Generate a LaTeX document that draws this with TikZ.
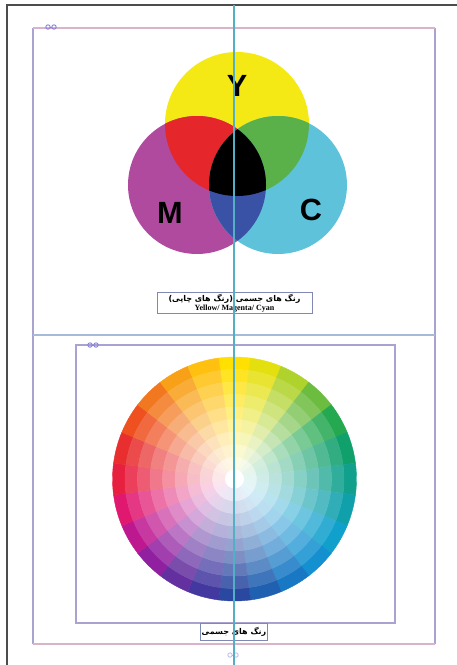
\documentclass[tikz,border=0pt]{standalone}
\usepackage{fontspec}
\setmainfont{Liberation Serif}
\newfontfamily\labelfont{Liberation Sans}
\newfontfamily\persianfont[Script=Arabic]{DejaVu Sans}
\TeXXeTstate=1

% colours of the three inks and their overlaps
\definecolor{inkY}{HTML}{F4E914}
\definecolor{inkM}{HTML}{AF4A9E}
\definecolor{inkC}{HTML}{5EC3DA}
\definecolor{inkR}{HTML}{E5262A}
\definecolor{inkG}{HTML}{5AB14A}
\definecolor{inkB}{HTML}{3A52A5}
% frame colours
\definecolor{framepink}{HTML}{D9B3C9}
\definecolor{framelav}{HTML}{A9A3D2}
\definecolor{guideblue}{HTML}{A8BADA}
\definecolor{guidecyan}{HTML}{52AFC4}
\definecolor{capbox}{HTML}{8088B4}
% hues of the colour wheel, clockwise from the top
\definecolor{wc0}{HTML}{FFE000}
\definecolor{wc1}{HTML}{E4E010}
\definecolor{wc2}{HTML}{B0D22C}
\definecolor{wc3}{HTML}{6CBC40}
\definecolor{wc4}{HTML}{24A850}
\definecolor{wc5}{HTML}{10A06C}
\definecolor{wc6}{HTML}{10A08C}
\definecolor{wc7}{HTML}{10A0AC}
\definecolor{wc8}{HTML}{10A0CC}
\definecolor{wc9}{HTML}{1490D0}
\definecolor{wc10}{HTML}{1878C4}
\definecolor{wc11}{HTML}{2060B0}
\definecolor{wc12}{HTML}{2A48A0}
\definecolor{wc13}{HTML}{4238A0}
\definecolor{wc14}{HTML}{6430A0}
\definecolor{wc15}{HTML}{9020A0}
\definecolor{wc16}{HTML}{BE1890}
\definecolor{wc17}{HTML}{E01870}
\definecolor{wc18}{HTML}{E82040}
\definecolor{wc19}{HTML}{E82E2E}
\definecolor{wc20}{HTML}{EE5020}
\definecolor{wc21}{HTML}{F27820}
\definecolor{wc22}{HTML}{F8A018}
\definecolor{wc23}{HTML}{FFC010}

\tikzset{
  frameline/.style={line width=0.9pt},
  caption/.style={draw=capbox, line width=0.6pt, fill=white, inner sep=1pt,
    align=center, font=\fontsize{6}{6.5}\selectfont\bfseries},
  inklabel/.style={font=\labelfont\fontsize{23}{23}\selectfont\bfseries},
  linkicon/.pic={
    \draw[framelav!80!blue, line width=0.7pt] (-3,0) circle[radius=2.2] (3,0) circle[radius=2.2];
    \draw[framelav!80!blue, line width=0.7pt] (-1,0) -- (1,0);
  }
}

\begin{document}
\begin{tikzpicture}[x=0.75pt,y=-0.75pt]
\useasboundingbox (0,0) rectangle (457,665);
\def\rY{72}
\def\rMC{69}
\def\rW{122}

\coordinate (Y) at (237,124);
\coordinate (M) at (197,185);
\coordinate (C) at (278,185);
\coordinate (W) at (234.5,479);

% page border and frames
\draw[line width=1.1pt, black!70] (7,665) -- (7,5) -- (457,5);
\draw[frameline, framelav] (33,28) -- (33,644) (435,28) -- (435,644);
\draw[frameline, framepink] (33,28) -- (435,28) (33,644) -- (435,644);
\draw[frameline, guideblue] (33,335) -- (435,335);
\draw[frameline, framelav] (76,345) rectangle (395,623);
\pic at (51,27) {linkicon};
\pic at (93,345) {linkicon};
\pic[opacity=0.5] at (233,655) {linkicon};

% the three inks
\fill[inkY] (Y) circle[radius=\rY];
\fill[inkM] (M) circle[radius=\rMC];
\fill[inkC] (C) circle[radius=\rMC];
\begin{scope}
  \clip (Y) circle[radius=\rY];
  \fill[inkR] (M) circle[radius=\rMC];
  \fill[inkG] (C) circle[radius=\rMC];
\end{scope}
\begin{scope}
  \clip (M) circle[radius=\rMC];
  \fill[inkB] (C) circle[radius=\rMC];
  \clip (C) circle[radius=\rMC];
  \fill[black] (Y) circle[radius=\rY];
\end{scope}
\node[inklabel] (labY) at (237,86) {Y};
\node[inklabel] (labM) at (170,213) {M};
\node[inklabel] (labC) at (311,210) {C};

\node[caption, minimum width=116.25pt, minimum height=15pt] (cap1) at (234.5,303)
  {\persianfont\beginR رنگ های جسمی (رنگ های چاپی)\endR\\[0.5pt]
   Yellow/ Magenta/ Cyan};

% colour wheel: 24 hues, 9 tints
\begin{scope}[shift={(W)}, yscale=-1]
  \foreach \k in {0,...,23} {
    \foreach \i/\t in {0/100,1/86,2/73,3/61,4/50,5/39,6/29,7/20,8/11} {
      \pgfmathsetmacro\ro{\rW-\i*12.5}
      \pgfmathsetmacro\ri{\ro-12.5}
      \pgfmathsetmacro\aA{90-15*\k-7.5}
      \pgfmathsetmacro\aB{90-15*\k+7.5}
      \filldraw[wc\k!\t!white, line width=0.3pt] (\aA:\ro) arc[start angle=\aA, end angle=\aB, radius=\ro]
        -- (\aB:\ri) arc[start angle=\aB, end angle=\aA, radius=\ri] -- cycle;
    }
  }
  \fill[white] (0,0) circle[radius=9.5];
\end{scope}

\node[caption, minimum width=43.5pt, minimum height=12.75pt] (cap2) at (234,631.5)
  {\persianfont\beginR رنگ های جسمی\endR};

% vertical guide over everything
\draw[line width=1.1pt, guidecyan] (234,5) -- (234,665);
\end{tikzpicture}
\end{document}
